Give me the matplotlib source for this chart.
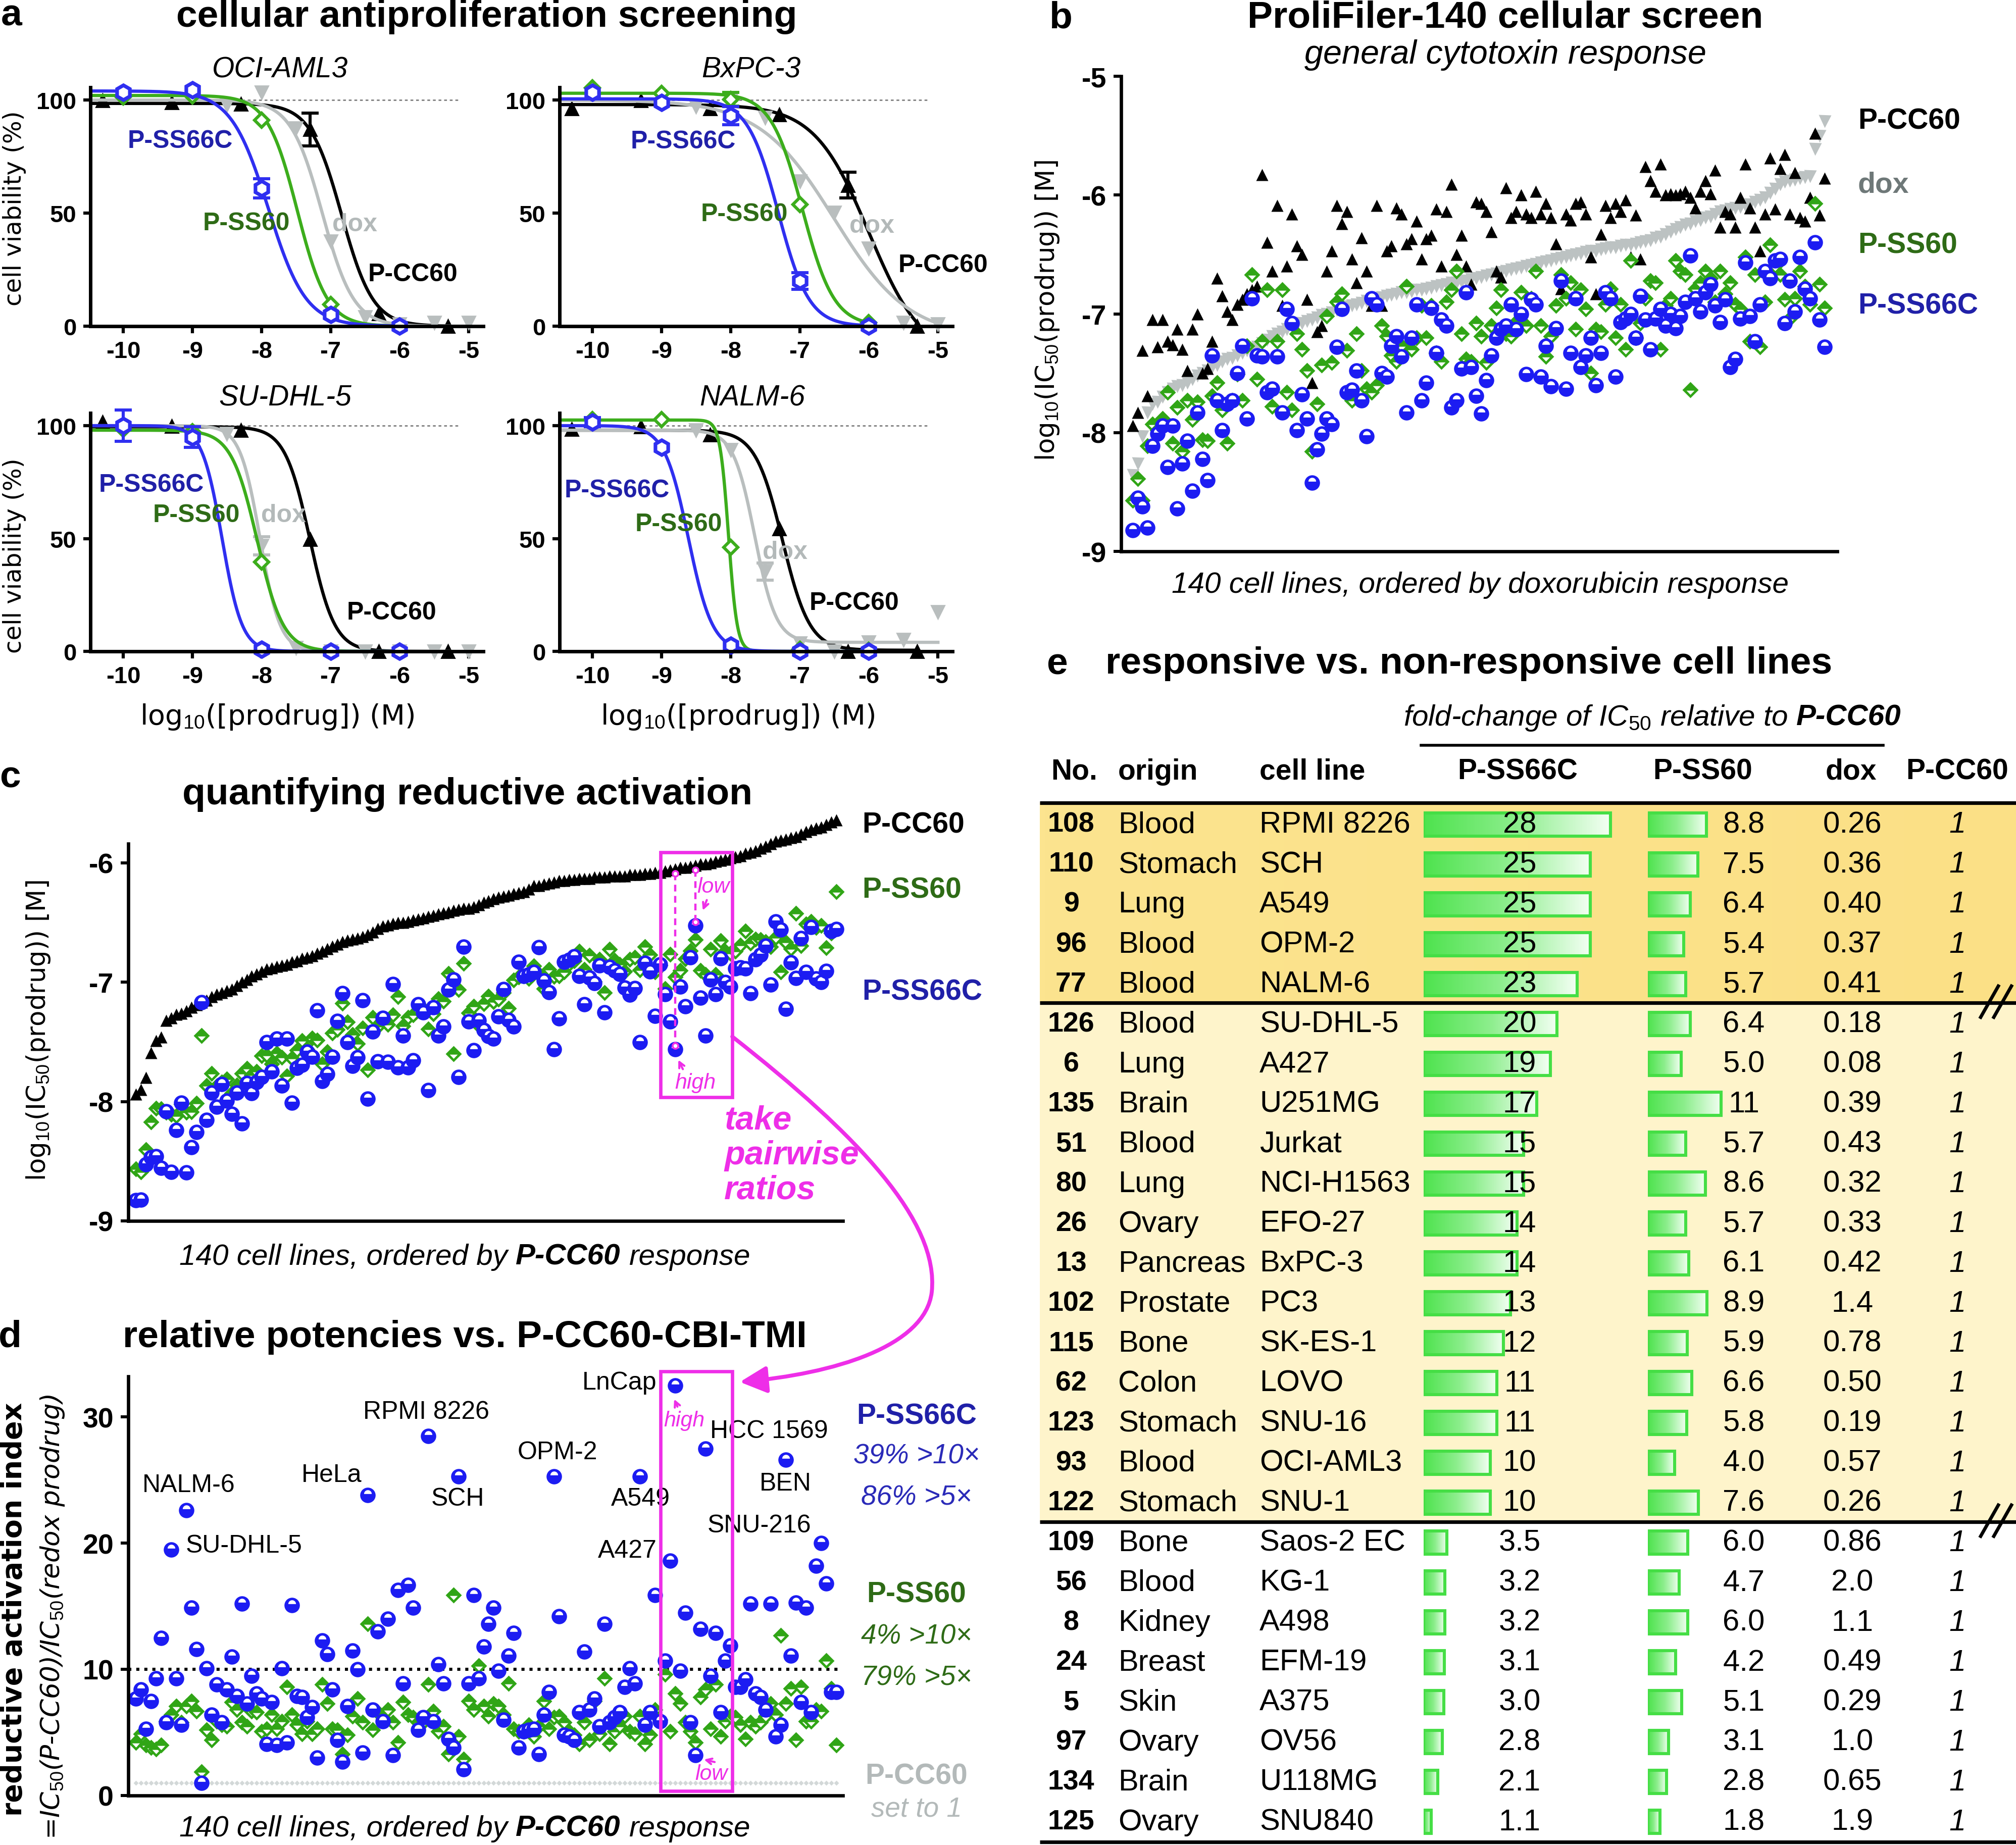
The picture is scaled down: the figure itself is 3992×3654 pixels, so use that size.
import numpy as np
import matplotlib
matplotlib.use('Agg')
import matplotlib.pyplot as plt
from matplotlib.path import Path
from matplotlib.patches import FancyArrowPatch, Rectangle
from matplotlib.transforms import Affine2D
from matplotlib.colors import LinearSegmentedColormap, to_rgb

plt.rcParams['font.family'] = ['Liberation Sans', 'DejaVu Sans']
plt.rcParams['axes.unicode_minus'] = False
plt.rcParams['mathtext.fontset'] = 'custom'
plt.rcParams['mathtext.rm'] = 'Liberation Sans'
plt.rcParams['mathtext.it'] = 'Liberation Sans:italic'
plt.rcParams['mathtext.bf'] = 'Liberation Sans:bold'

# ---------------- panel a: dose response (log10 M vs % viability) ----------------
cell_a = ['OCI-AML3', 'BxPC-3', 'SU-DHL-5', 'NALM-6']
conc_ss = [-10, -9, -8, -7, -6]
conc_cc = [-10.3, -9.3, -8.3, -7.3, -6.3, -5.3]
conc_dox = [-8.5, -8, -7.5, -7, -6.5, -6, -5.5, -5]

a_ss66c = [[103.4, 104.4, 60.9, 5.1, 0.0], [103.4, 98.8, 93.1, 20.0, 0.0],
           [100.0, 94.9, 1.0, 0.0, 0.0], [101.5, 90.3, 2.6, 0.0, 0.0]]
a_ss66c_err = [[0, 0, 4.3, 0, 0], [0, 0, 4.0, 3.6, 0], [7.0, 4.6, 0, 0, 0], [2.0, 0, 0, 0, 0]]
a_ss60 = [[101.3, 101.8, 91.0, 9.7, 0.0], [105.4, 102.9, 100.3, 53.7, 1.5],
          [98.5, 97.4, 39.5, 0.0, 0.0], [102.6, 102.6, 46.2, 1.0, 0.5]]
a_ss60_err = [[0, 0, 0, 0, 0], [0, 0, 3.0, 0, 0], [0, 0, 0, 0, 0], [0, 0, 0, 0, 0]]
a_dox = [[97.7, 103.4, 87.5, 37.4, 4.1, 1.0, 1.5, 1.5], [97.2, 100.0, 92.1, 64.0, 50.2, 34.3, 1.5, 1.0],
         [96.4, 46.7, 1.5, 0.0, 0.0, 0.0, 0.0, 0.0], [98.0, 89.2, 35.4, 3.5, 0.0, 4.0, 5.1, 17.4]]
a_dox_err = [[0] * 8, [0] * 8, [0, 4.0, 0, 0, 0, 0, 0, 0], [0, 0, 3.8, 0, 0, 0, 0, 0]]
a_cc60 = [[99.8, 98.8, 98.3, 87.0, 5.6, 0.0], [96.2, 99.8, 96.2, 93.6, 62.4, 0.0],
          [101.5, 99.8, 98.0, 49.7, 0.0, 0.0], [98.5, 99.5, 96.0, 54.4, 0.0, 0.0]]
a_cc60_err = [[0, 0, 0, 7.2, 0, 0], [0, 0, 0, 0, 5.6, 0], [0] * 6, [0] * 6]

# fitted curves: (top, bottom, logIC50, hill)
fit_ss66c = [(104, 0, -7.9, 1.6), (100.5, 0, -7.31, 1.95), (100, 0, -8.57, 3.0), (100, 0, -8.61, 2.5)]
fit_ss60 = [(102, 0, -7.48, 2.0), (103, 0, -6.96, 1.9), (98, 0, -8.06, 2.3), (102.5, 0, -8.03, 7.0)]
fit_dox = [(100, 0, -7.12, 1.9), (100, -5, -6.5, 0.8), (100, 0, -8.02, 3.0), (98, 4, -7.65, 2.8)]
fit_cc60 = [(98.5, 0, -6.84, 1.9), (98, -15, -6.0, 1.1), (99.5, 0, -7.3, 2.4), (98, 0.5, -7.25, 2.2)]

# ---------------- panel b: 140 cell lines ordered by dox (log10 IC50) ----------------
b_dox = [-8.36, -8.26, -8.03, -7.83, -7.76, -7.74, -7.70, -7.66, -7.63, -7.61,
         -7.60, -7.58, -7.55, -7.52, -7.50, -7.48, -7.45, -7.43, -7.40, -7.38,
         -7.37, -7.35, -7.33, -7.31, -7.30, -7.28, -7.25, -7.22, -7.19, -7.17,
         -7.15, -7.13, -7.11, -7.09, -7.08, -7.06, -7.05, -7.03, -7.01, -7.00,
         -6.99, -6.97, -6.96, -6.94, -6.93, -6.92, -6.91, -6.89, -6.88, -6.87,
         -6.86, -6.85, -6.84, -6.83, -6.82, -6.82, -6.81, -6.80, -6.80, -6.79,
         -6.78, -6.77, -6.76, -6.75, -6.74, -6.74, -6.73, -6.72, -6.71, -6.70,
         -6.69, -6.68, -6.67, -6.66, -6.65, -6.64, -6.63, -6.62, -6.61, -6.60,
         -6.59, -6.58, -6.57, -6.56, -6.55, -6.54, -6.53, -6.52, -6.51, -6.50,
         -6.49, -6.48, -6.47, -6.47, -6.46, -6.45, -6.44, -6.44, -6.43, -6.42,
         -6.42, -6.41, -6.40, -6.39, -6.38, -6.36, -6.35, -6.33, -6.31, -6.29,
         -6.27, -6.25, -6.24, -6.22, -6.21, -6.19, -6.18, -6.16, -6.14, -6.13,
         -6.12, -6.11, -6.10, -6.09, -6.08, -6.06, -6.04, -6.02, -5.98, -5.95,
         -5.91, -5.89, -5.88, -5.87, -5.86, -5.85, -5.84, -5.61, -5.50, -5.38]
b_cc60 = [-7.94, -7.83, -7.31, -7.69, -7.05, -7.28, -7.05, -7.23, -7.26, -7.13,
          -7.30, -7.48, -7.13, -7.00, -7.50, -7.46, -7.23, -6.70, -6.85, -6.98,
          -7.05, -6.92, -6.88, -6.83, -6.80, -6.77, -5.83, -6.40, -6.64, -6.09,
          -6.93, -6.60, -6.16, -6.43, -6.50, -6.88, -7.58, -7.15, -7.10, -6.64,
          -6.47, -6.09, -6.24, -6.14, -6.54, -6.74, -6.36, -6.64, -6.93, -6.09,
          -6.93, -6.47, -6.43, -6.11, -6.16, -6.41, -6.37, -6.22, -6.54, -6.37,
          -6.34, -6.12, -6.60, -6.14, -5.91, -6.50, -6.34, -6.60, -6.75, -6.06,
          -6.07, -6.14, -6.31, -6.64, -6.69, -5.94, -6.19, -6.14, -6.00, -6.16,
          -6.19, -5.97, -6.16, -6.07, -6.19, -6.41, -6.79, -6.16, -6.21, -6.07,
          -6.06, -6.16, -6.52, -6.83, -6.33, -6.09, -6.19, -6.07, -6.14, -6.04,
          -6.52, -6.17, -6.54, -5.76, -5.88, -5.97, -5.74, -6.00, -5.99, -6.00,
          -5.99, -5.97, -6.02, -6.11, -5.97, -5.88, -5.99, -5.79, -6.27, -6.14,
          -6.16, -6.27, -6.02, -5.74, -6.11, -6.27, -6.47, -6.16, -5.69, -6.12,
          -5.78, -5.66, -6.16, -5.81, -6.19, -6.22, -6.02, -5.48, -6.17, -5.86]
b_ss60 = [-8.57, -8.39, -8.57, -8.11, -7.93, -7.98, -7.88, -7.66, -8.09, -7.79,
          -8.16, -7.73, -7.89, -7.74, -8.06, -8.07, -7.69, -7.58, -7.81, -8.09,
          -7.73, -7.51, -7.73, -7.27, -6.67, -7.55, -7.23, -6.80, -7.78, -7.23,
          -6.80, -7.66, -7.81, -7.17, -7.30, -7.48, -8.16, -7.76, -7.43, -7.02,
          -7.41, -6.90, -6.83, -7.31, -7.73, -7.17, -7.48, -7.63, -7.66, -7.60,
          -7.10, -7.19, -7.35, -7.40, -7.27, -6.77, -7.30, -7.20, -6.93, -7.20,
          -6.93, -7.33, -7.40, -6.90, -6.80, -6.64, -7.17, -7.38, -7.40, -7.08,
          -7.19, -7.41, -7.10, -6.95, -6.80, -7.17, -7.19, -7.07, -6.82, -7.10,
          -6.87, -6.64, -7.10, -7.36, -7.19, -6.93, -6.67, -6.87, -6.74, -7.13,
          -6.80, -6.96, -7.50, -7.13, -7.15, -6.92, -6.79, -7.20, -6.92, -7.30,
          -6.55, -7.20, -7.08, -6.87, -6.72, -6.74, -7.30, -6.93, -6.87, -6.55,
          -6.64, -6.67, -7.64, -6.79, -6.74, -6.64, -6.70, -6.90, -6.64, -6.83,
          -6.74, -6.92, -6.96, -6.52, -7.23, -6.67, -7.28, -6.90, -6.42, -6.60,
          -6.67, -6.88, -7.04, -6.87, -6.64, -6.77, -6.92, -6.07, -6.75, -6.95]
b_ss66c = [-8.82, -8.55, -8.62, -8.80, -8.11, -8.01, -7.94, -8.29, -7.94, -8.64,
           -8.26, -8.07, -8.49, -7.83, -8.22, -8.40, -7.35, -7.73, -7.98, -7.76,
           -7.73, -7.50, -7.27, -7.88, -6.87, -7.35, -7.36, -7.66, -7.63, -7.36,
           -7.83, -6.96, -7.08, -7.98, -7.68, -7.88, -8.42, -8.14, -8.01, -7.88,
           -7.93, -7.28, -6.96, -7.66, -7.64, -7.48, -7.73, -8.03, -6.87, -6.92,
           -7.50, -7.53, -7.27, -7.19, -7.36, -7.83, -7.20, -6.92, -7.73, -7.58,
           -6.95, -7.33, -7.05, -7.10, -7.79, -7.73, -7.46, -6.82, -7.45, -7.69,
           -7.84, -7.56, -7.35, -7.20, -7.13, -7.10, -6.92, -7.13, -7.00, -7.51,
           -6.88, -6.92, -7.53, -7.27, -7.61, -7.12, -6.72, -7.63, -7.33, -6.87,
           -7.45, -7.35, -7.20, -7.60, -7.33, -6.82, -6.87, -7.53, -7.07, -7.04,
           -7.00, -7.20, -6.85, -7.05, -7.30, -7.04, -6.96, -7.10, -7.00, -7.12,
           -7.02, -6.90, -6.51, -6.87, -6.98, -6.82, -6.75, -6.93, -7.07, -6.88,
           -7.45, -7.38, -7.04, -6.57, -7.02, -7.23, -6.92, -6.64, -6.70, -6.55,
           -6.54, -7.08, -6.72, -6.98, -6.52, -6.79, -6.87, -6.40, -7.05, -7.28]

# ---------------- panels c/d: 140 cell lines ordered by P-CC60 ----------------
c_cc60 = [-7.94, -7.90, -7.80, -7.59, -7.49, -7.46, -7.32, -7.30, -7.27, -7.26,
          -7.24, -7.21, -7.19, -7.17, -7.15, -7.12, -7.10, -7.09, -7.07, -7.06,
          -7.03, -7.00, -6.98, -6.95, -6.93, -6.91, -6.89, -6.88, -6.87, -6.86,
          -6.85, -6.83, -6.82, -6.80, -6.79, -6.78, -6.76, -6.74, -6.72, -6.70,
          -6.68, -6.66, -6.65, -6.64, -6.63, -6.62, -6.60, -6.58, -6.55, -6.53,
          -6.52, -6.51, -6.50, -6.50, -6.49, -6.48, -6.47, -6.46, -6.45, -6.44,
          -6.43, -6.42, -6.41, -6.40, -6.39, -6.38, -6.38, -6.37, -6.35, -6.33,
          -6.32, -6.30, -6.29, -6.28, -6.27, -6.26, -6.25, -6.24, -6.22, -6.19,
          -6.19, -6.18, -6.17, -6.16, -6.15, -6.15, -6.14, -6.14, -6.13, -6.13,
          -6.13, -6.12, -6.12, -6.12, -6.11, -6.11, -6.11, -6.11, -6.10, -6.10,
          -6.10, -6.09, -6.09, -6.08, -6.08, -6.07, -6.06, -6.05, -6.04, -6.04,
          -6.03, -6.02, -6.01, -6.01, -6.00, -5.99, -5.98, -5.97, -5.96, -5.95,
          -5.94, -5.92, -5.91, -5.90, -5.88, -5.86, -5.84, -5.82, -5.81, -5.80,
          -5.79, -5.78, -5.76, -5.74, -5.72, -5.71, -5.70, -5.68, -5.66, -5.64]
# reductive activation index = IC50(P-CC60) / IC50(prodrug)
d_ratio_ss66c = [7.7, 8.4, 5.3, 7.5, 9.3, 12.5, 5.8, 19.5, 9.3, 5.6,
                 22.6, 14.9, 11.6, 1.0, 10.1, 6.4, 8.8, 5.8, 8.4, 11.0,
                 7.9, 15.2, 7.3, 9.5, 8.1, 7.7, 4.1, 7.4, 4.0, 10.1,
                 4.2, 15.1, 7.9, 7.8, 6.2, 7.0, 3.0, 12.3, 11.2, 8.4,
                 4.4, 2.7, 7.1, 11.5, 10.0, 3.4, 23.8, 6.8, 13.0, 5.9,
                 14.0, 3.2, 16.3, 8.9, 16.7, 14.9, 5.2, 6.2, 28.5, 5.9,
                 10.4, 8.9, 4.5, 3.8, 25.3, 2.1, 8.9, 15.9, 9.3, 11.8,
                 13.6, 14.9, 9.9, 6.0, 11.1, 12.9, 3.8, 5.1, 5.2, 5.3,
                 3.3, 6.4, 8.2, 25.3, 14.2, 4.8, 4.7, 4.4, 6.6, 11.4,
                 6.8, 7.7, 5.5, 13.6, 5.8, 6.2, 6.6, 8.6, 10.1, 8.9,
                 25.3, 5.6, 6.6, 15.9, 5.9, 10.7, 18.6, 32.5, 9.9, 14.5,
                 5.8, 3.2, 13.2, 27.5, 9.5, 12.9, 6.6, 10.7, 11.9, 8.6,
                 8.6, 9.2, 15.2, 8.1, 7.8, 6.8, 15.2, 4.7, 5.6, 26.6,
                 11.1, 15.3, 7.4, 14.9, 6.6, 18.2, 20.0, 16.8, 8.2, 8.2]
d_ratio_ss60 = [4.2, 4.9, 4.0, 3.8, 3.7, 4.0, 5.9, 6.4, 7.1, 5.8,
                7.1, 7.5, 6.7, 1.9, 5.2, 4.4, 5.9, 5.6, 5.5, 7.4,
                6.8, 5.8, 5.5, 6.7, 6.6, 5.1, 5.3, 6.4, 5.3, 5.9,
                8.6, 6.4, 5.6, 4.9, 5.9, 4.9, 5.3, 8.8, 7.3, 5.3,
                5.2, 3.3, 4.8, 6.3, 7.7, 5.8, 13.6, 5.2, 6.6, 6.2,
                6.8, 5.8, 4.2, 7.4, 6.4, 6.2, 5.8, 5.8, 8.8, 6.7,
                5.1, 5.5, 3.3, 15.9, 4.7, 2.9, 7.5, 6.8, 10.3, 7.1,
                6.3, 7.3, 7.1, 6.4, 8.9, 5.3, 5.1, 5.1, 5.6, 4.7,
                5.5, 7.5, 5.3, 6.2, 6.3, 5.8, 5.1, 4.8, 4.1, 5.8,
                4.4, 7.5, 4.9, 9.3, 4.1, 5.1, 5.5, 6.3, 5.1, 4.9,
                6.3, 4.1, 4.8, 6.8, 6.0, 9.6, 5.1, 8.1, 7.3, 5.8,
                5.1, 4.2, 7.8, 8.4, 5.3, 8.8, 4.7, 5.9, 6.3, 6.2,
                5.6, 4.5, 5.8, 5.5, 5.8, 6.3, 7.3, 6.4, 12.7, 7.3,
                8.5, 4.4, 8.6, 5.9, 5.9, 6.8, 6.7, 10.7, 8.5, 4.0]
d_names = ['NALM-6', 'SU-DHL-5', 'HeLa', 'RPMI 8226', 'SCH', 'OPM-2', 'A549',
           'LnCap', 'A427', 'HCC 1569', 'BEN', 'SNU-216']
hi_idx, lo_idx = 107, 111

# ---------------- panel e: table ----------------
tab_no = [108, 110, 9, 96, 77, 126, 6, 135, 51, 80, 26, 13, 102, 115, 62, 123, 93, 122,
          109, 56, 8, 24, 5, 97, 134, 125]
tab_origin = ['Blood', 'Stomach', 'Lung', 'Blood', 'Blood', 'Blood', 'Lung', 'Brain', 'Blood',
              'Lung', 'Ovary', 'Pancreas', 'Prostate', 'Bone', 'Colon', 'Stomach', 'Blood',
              'Stomach', 'Bone', 'Blood', 'Kidney', 'Breast', 'Skin', 'Ovary', 'Brain', 'Ovary']
tab_line = ['RPMI 8226', 'SCH', 'A549', 'OPM-2', 'NALM-6', 'SU-DHL-5', 'A427', 'U251MG', 'Jurkat',
            'NCI-H1563', 'EFO-27', 'BxPC-3', 'PC3', 'SK-ES-1', 'LOVO', 'SNU-16', 'OCI-AML3',
            'SNU-1', 'Saos-2 EC', 'KG-1', 'A498', 'EFM-19', 'A375', 'OV56', 'U118MG', 'SNU840']
tab_ss66c = ['28', '25', '25', '25', '23', '20', '19', '17', '15', '15', '14', '14', '13', '12',
             '11', '11', '10', '10', '3.5', '3.2', '3.2', '3.1', '3.0', '2.8', '2.1', '1.1']
tab_ss60 = ['8.8', '7.5', '6.4', '5.4', '5.7', '6.4', '5.0', '11', '5.7', '8.6', '5.7', '6.1',
            '8.9', '5.9', '6.6', '5.8', '4.0', '7.6', '6.0', '4.7', '6.0', '4.2', '5.1', '3.1',
            '2.8', '1.8']
tab_dox = ['0.26', '0.36', '0.40', '0.37', '0.41', '0.18', '0.08', '0.39', '0.43', '0.32', '0.33',
           '0.42', '1.4', '0.78', '0.50', '0.19', '0.57', '0.26', '0.86', '2.0', '1.1', '0.49',
           '0.29', '1.0', '0.65', '1.9']

# ---------------- styling ----------------
BLUE_M, BLUE_L, BLUE_T = '#1C1CF2', '#2F2FF0', '#2020A8'
GREEN_M, GREEN_L, GREEN_T = '#30A516', '#3CAD1C', '#2E6B16'
GREY_L, GREY_T, GREY_B = '#B9BEBE', '#B3B9B9', '#6E7878'
MAG = '#EE2EE8'

W, H = 3992, 3655
fig = plt.figure(figsize=(W / 200, H / 200), dpi=200)
tpx = Affine2D().scale(1 / W, -1 / H).translate(0, 1) + fig.transFigure


def add_ax(l, t, r, b):
    return fig.add_axes([l / W, 1 - b / H, (r - l) / W, (b - t) / H])


def ftext(x, y, s, size, **kw):
    kw.setdefault('ha', 'center')
    kw.setdefault('va', 'center')
    return fig.text(x, y, s, transform=tpx, fontsize=size, **kw)


def rich(x, y, parts, size, gap=0.28):
    r = fig.canvas.get_renderer()
    objs = [fig.text(0, 0, s, transform=tpx, fontsize=size, ha='left', va='center', **kw)
            for s, kw in parts]
    ws = [o.get_window_extent(renderer=r).width for o in objs]
    g = gap * size * 200 / 72
    cx = x - (sum(ws) + g * (len(objs) - 1)) / 2
    for o, w in zip(objs, ws):
        o.set_position((cx, y))
        cx += w + g


def style(ax, lw, tl, size):
    for s in ['top', 'right']:
        ax.spines[s].set_visible(False)
    for s in ['left', 'bottom']:
        ax.spines[s].set_linewidth(lw)
    ax.tick_params(length=tl, width=lw * 0.9, labelsize=size, pad=5)


def logistic(x, top, bottom, c, h):
    return bottom + (top - bottom) / (1 + 10 ** ((x - c) * h))


t = np.linspace(0, np.pi, 30)
SEMI = Path(np.vstack([np.column_stack([np.cos(t), 0.35 + np.sin(t)]), [[1, 0.35]]]), closed=True)
TRI = Path([(-1, -0.15), (1, -0.15), (0, -1.2), (-1, -0.15)], closed=True)


def green_pts(ax, x, y):
    for xi, yi in zip(x, y):
        ax.plot([xi], [yi], marker='D', ms=8.2, color=GREEN_M, mec='none', ls='none', clip_on=False)
        ax.plot([xi], [yi], marker=TRI, ms=6.8, color='white', mec='none', ls='none', clip_on=False)


def blue_pts(ax, x, y):
    for xi, yi in zip(x, y):
        ax.plot([xi], [yi], marker='o', ms=11, color=BLUE_M, mec='none', ls='none', clip_on=False)
        ax.plot([xi], [yi], marker=SEMI, ms=7.4, color='white', mec='none', ls='none', clip_on=False)


# ================= panel a =================
a_boxes = [(179, 174, 957, 647), (1108, 174, 1886, 647), (179, 819, 957, 1291), (1108, 819, 1886, 1291)]
a_titles = [(555, 138), (1487, 138), (565, 789), (1490, 789)]
a_labpos = [[(357, 280), (488, 443), (702, 445), (817, 544)],
            [(1353, 281), (1474, 425), (1726, 448), (1867, 526)],
            [(300, 961), (389, 1021), (561, 1021), (775, 1214)],
            [(1222, 972), (1344, 1039), (1554, 1094), (1691, 1195)]]
ser_names = ['P-SS66C', 'P-SS60', 'dox', 'P-CC60']
ser_cols = [BLUE_T, GREEN_T, GREY_T, 'black']

for k, name in enumerate(cell_a):
    ax = add_ax(*a_boxes[k])
    ax.set_xlim(-10.475, -4.79)
    ax.set_ylim(0, 105.6)
    ax.plot([-10.475, -5.15], [100, 100], color='#808080', lw=1.0, ls=(0, (2, 2)), zorder=1)
    specs = [(conc_cc, a_cc60[k], a_cc60_err[k], fit_cc60[k], 'black',
              dict(marker='^', mfc='black', mec='black', ms=9.5)),
             (conc_dox, a_dox[k], a_dox_err[k], fit_dox[k], GREY_L,
              dict(marker='v', mfc=GREY_L, mec=GREY_L, ms=9.5)),
             (conc_ss, a_ss60[k], a_ss60_err[k], fit_ss60[k], GREEN_L,
              dict(marker='D', mfc='white', mec=GREEN_L, ms=7, mew=2.2)),
             (conc_ss, a_ss66c[k], a_ss66c_err[k], fit_ss66c[k], BLUE_L,
              dict(marker='h', mfc='white', mec=BLUE_L, ms=10.5, mew=2.6))]
    for xs, ys, es, fit, col, mk in specs:
        xx = np.linspace(-10.475, xs[-1], 400)
        ax.plot(xx, logistic(xx, *fit), color=col, lw=2.3)
        ex = [x for x, e in zip(xs, es) if e > 0]
        if ex:
            ey = [y for y, e in zip(ys, es) if e > 0]
            ee = [e for e in es if e > 0]
            ax.errorbar(ex, ey, yerr=ee, fmt='none', ecolor='black' if col == 'black' else col,
                        elinewidth=2.2, capsize=6, capthick=2.2, clip_on=False)
        ax.plot(xs, ys, ls='none', clip_on=False, **mk)
    style(ax, 2.5, 5, 17)
    ax.set_xticks([-10, -9, -8, -7, -6, -5])
    ax.set_xticklabels(['-10', '-9', '-8', '-7', '-6', '-5'], fontweight='bold')
    ax.set_yticks([0, 50, 100])
    ax.set_yticklabels(['0', '50', '100'], fontweight='bold')
    ftext(*a_titles[k], name, 20.5, style='italic')
    for (px, py), s, c in zip(a_labpos[k], ser_names, ser_cols):
        ftext(px, py, s, 18, color=c, weight='bold')

ftext(23, 31, 'a', 27, weight='bold')
ftext(964, 33, 'cellular antiproliferation screening', 27, weight='bold')
for yy in (413, 1101):
    ftext(29, yy, 'cell viability (%)', 17.4, rotation=90, family='DejaVu Sans')
for xx in (548, 1460):
    ftext(xx, 1420, r'log$_{10}$([prodrug]) (M)', 20, family='DejaVu Sans')

# ================= panel b =================
ax = add_ax(2220, 152, 3638, 1093)
xb = np.arange(len(b_dox))
ax.plot(xb, b_dox, ls='none', marker='v', ms=9, color='#BCC2C2', mec='none')
ax.plot(xb, b_cc60, ls='none', marker='^', ms=8.6, color='black', mec='none', clip_on=False)
green_pts(ax, xb, b_ss60)
blue_pts(ax, xb, b_ss66c)
ax.set_xlim(-2.3, 141.5)
ax.set_ylim(-9, -5)
style(ax, 2.4, 5.4, 20)
ax.set_xticks([])
ax.set_yticks([-9, -8, -7, -6, -5])
ax.set_yticklabels(['-9', '-8', '-7', '-6', '-5'], fontweight='bold')
ftext(2100, 36, 'b', 27, weight='bold')
ftext(2981, 35, 'ProliFiler-140 cellular screen', 27, weight='bold')
ftext(2981, 109, 'general cytotoxin response', 24, style='italic')
ftext(2931, 1159, '140 cell lines, ordered by doxorubicin response', 21, style='italic')
ftext(2074, 615, r'log$_{10}$(IC$_{50}$(prodrug)) [M]', 18.5, rotation=90, family='DejaVu Sans')
for s, c, yy in zip(['P-CC60', 'dox', 'P-SS60', 'P-SS66C'], ['black', GREY_B, GREEN_T, BLUE_T],
                    [241, 366, 486, 607]):
    ftext(3679, yy, s, 20.5, color=c, weight='bold', ha='left')

# ================= panel c =================
cc = np.array(c_cc60)
xc = np.arange(len(cc))
c_ss66c = cc - np.log10(d_ratio_ss66c)
c_ss60 = cc - np.log10(d_ratio_ss60)
ax = add_ax(254, 1672, 1669, 2419)
ax.plot(xc, cc, ls='none', marker='^', ms=8.6, color='black', mec='none', clip_on=False)
green_pts(ax, xc, c_ss60)
blue_pts(ax, xc, c_ss66c)
ax.set_xlim(-1.5, 140.3)
ax.set_ylim(-9, -5.84)
style(ax, 2.4, 5.4, 20)
ax.set_xticks([])
ax.set_yticks([-9, -8, -7, -6])
ax.set_yticklabels(['-9', '-8', '-7', '-6'], fontweight='bold')
ax.add_patch(Rectangle((104.1, -7.963), 14.3, 2.049, fill=False, ec=MAG, lw=2.4, clip_on=False, zorder=5))
for i in (hi_idx, lo_idx):
    ax.plot([i, i], [cc[i] - 0.04, c_ss66c[i] + 0.03], color=MAG, lw=1.6, ls=(0, (3, 2)), zorder=6)
    ax.plot([i, i], [cc[i] - 0.04, c_ss66c[i] + 0.03], ls='none', marker='o', ms=4, mfc='white',
            mec=MAG, mew=1.3, zorder=6)
ax.text(114.6, -6.2, 'low', color=MAG, fontsize=15.5, style='italic', ha='center', va='center')
ax.annotate('', xy=(112.3, -6.42), xytext=(113.5, -6.29),
            arrowprops=dict(arrowstyle='->', color=MAG, lw=1.5))
ax.text(111.0, -7.84, 'high', color=MAG, fontsize=15.5, style='italic', ha='center', va='center')
ax.annotate('', xy=(107.4, -7.63), xytext=(108.8, -7.75),
            arrowprops=dict(arrowstyle='->', color=MAG, lw=1.5))
ftext(20, 1540, 'c', 27, weight='bold')
ftext(926, 1574, 'quantifying reductive activation', 27, weight='bold')
ftext(76, 2041, r'log$_{10}$(IC$_{50}$(prodrug)) [M]', 18.5, rotation=90, family='DejaVu Sans')
rich(920, 2490, [('140 cell lines, ordered by', dict(style='italic')),
                 ('P-CC60', dict(style='italic', weight='bold')),
                 ('response', dict(style='italic'))], 21)
for s, c, yy in zip(['P-CC60', 'P-SS60', 'P-SS66C'], ['black', GREEN_T, BLUE_T], [1635, 1764, 1966]):
    ftext(1707, yy, s, 20.5, color=c, weight='bold', ha='left')
for s, yy in zip(['take', 'pairwise', 'ratios'], [2220, 2289, 2358]):
    ftext(1434, yy, s, 24, color=MAG, weight='bold', style='italic', ha='left')

# ================= panel d =================
ax = add_ax(254, 2727, 1669, 3557)
ax.plot(xc, np.ones_like(cc), ls='none', marker='D', ms=2.7, color='#D3D8D8', mec='none')
ax.plot([-1.5, 139.6], [10, 10], color='black', lw=2.2, ls=(0, (1, 1.6)))
green_pts(ax, xc, d_ratio_ss60)
blue_pts(ax, xc, d_ratio_ss66c)
ax.set_xlim(-1.5, 140.3)
ax.set_ylim(0, 33.2)
style(ax, 2.4, 5.4, 20)
ax.set_xticks([])
ax.set_yticks([0, 10, 20, 30])
ax.set_yticklabels(['0', '10', '20', '30'], fontweight='bold')
ax.add_patch(Rectangle((104.1, 0.36), 14.3, 33.24, fill=False, ec=MAG, lw=2.4, clip_on=False, zorder=5))
d_lab = [(10.5, 24.6, 'center'), (9.9, 19.8, 'left'), (38.9, 25.4, 'center'), (57.6, 30.4, 'center'),
         (63.9, 23.5, 'center'), (83.7, 27.2, 'center'), (100.2, 23.5, 'center'), (103.4, 32.7, 'right'),
         (103.4, 19.4, 'right'), (125.7, 28.9, 'center'), (128.9, 24.7, 'center'), (123.7, 21.4, 'center')]
for (lx, ly, ha), s in zip(d_lab, d_names):
    ax.text(lx, ly, s, fontsize=18, ha=ha, va='center')
ax.text(108.8, 29.7, 'high', color=MAG, fontsize=15.5, style='italic', ha='center', va='center')
ax.annotate('', xy=(106.6, 31.6), xytext=(107.7, 30.6),
            arrowprops=dict(arrowstyle='->', color=MAG, lw=1.5))
ax.text(114.2, 1.7, 'low', color=MAG, fontsize=15.5, style='italic', ha='center', va='center')
ax.annotate('', xy=(112.2, 2.9), xytext=(115.4, 2.6),
            arrowprops=dict(arrowstyle='->', color=MAG, lw=1.5))
ftext(20, 2648, 'd', 27, weight='bold')
ftext(920, 2649, 'relative potencies vs. P-CC60-CBI-TMI', 27, weight='bold')
ftext(28, 3187, 'reductive activation index', 20, rotation=90, family='DejaVu Sans', weight='bold')
ftext(104, 3202, r'=IC$_{\mathit{50}}$(P-CC60)/IC$_{\mathit{50}}$(redox prodrug)', 18.6, rotation=90,
      family='DejaVu Sans', style='italic')
rich(920, 3622, [('140 cell lines, ordered by', dict(style='italic')),
                 ('P-CC60', dict(style='italic', weight='bold')),
                 ('response', dict(style='italic'))], 21)
ftext(1815, 2806, 'P-SS66C', 20.5, color=BLUE_T, weight='bold')
ftext(1815, 2885, '39% >10\u00d7', 19.7, color='#2A2AB8', style='italic')
ftext(1815, 2967, '86% >5\u00d7', 19.7, color='#2A2AB8', style='italic')
ftext(1815, 3159, 'P-SS60', 20.5, color=GREEN_T, weight='bold')
ftext(1815, 3242, '4% >10\u00d7', 19.7, color=GREEN_T, style='italic')
ftext(1815, 3324, '79% >5\u00d7', 19.7, color=GREEN_T, style='italic')
ftext(1815, 3519, 'P-CC60', 20.5, color=GREY_T, weight='bold')
ftext(1815, 3584, 'set to 1', 19.7, color=GREY_T, style='italic')

# curved arrow from c to d
verts = [(1450, 2054), (1700, 2250), (1860, 2420), (1845, 2560), (1832, 2668), (1650, 2722), (1465, 2738)]
codes = [Path.MOVETO] + [Path.CURVE4] * 6
fig.add_artist(FancyArrowPatch(path=Path(verts, codes), arrowstyle='-|>,head_length=0.9,head_width=0.45',
                               mutation_scale=18, color=MAG, lw=2.8, transform=tpx))

# ================= panel e =================
ylim_e = (25.58, -4.86)
ax_bg = add_ax(2040, 1250, 3992, 3655)
grad = np.linspace(0, 1, 200)[:, None]
c1, c2 = np.array(to_rgb('#FCE48F')), np.array(to_rgb('#FBE086'))
ax_bg.imshow((c1 + (c2 - c1) * grad)[None, :, :], extent=(2059, 3992, 4.47, -0.55), aspect='auto')
ax_bg.add_patch(Rectangle((2059, 4.47), 3992 - 2059, 13.01, color='#FEF4CB', lw=0))
ax_bg.set_xlim(2040, 3992)
ax_bg.set_ylim(*ylim_e)
ax_bg.axis('off')

bar_cmap = LinearSegmentedColormap.from_list('bar', ['#4FE34F', '#8DEE8D', '#F2FFF2'])
rows = np.arange(len(tab_no))
for left, vals in ((2819, tab_ss66c), (3263, tab_ss60)):
    axb = add_ax(left, 1250, left + 13.2 * 30, 3655)
    v = np.array(vals, dtype=float)
    for i, vi in zip(rows, v):
        axb.imshow(np.linspace(0, 1, 64)[None, :], cmap=bar_cmap, extent=(0, vi, i + 0.29, i - 0.29),
                   aspect='auto', interpolation='bilinear')
    axb.barh(rows, v, height=0.58, fill=False, edgecolor='#45DE45', lw=2.2)
    axb.set_xlim(0, 30)
    axb.set_ylim(*ylim_e)
    axb.axis('off')

ax_e = add_ax(2040, 1250, 3992, 3655)
ax_e.set_xlim(2040, 3992)
ax_e.set_ylim(*ylim_e)
ax_e.axis('off')
for yl in (-0.55, 4.47, 17.48, 25.5):
    ax_e.plot([2059, 3992], [yl, yl], color='black', lw=2.6, solid_capstyle='butt')
ax_e.plot([2814, 3729], [-1.99, -1.99], color='black', lw=2.0)
for yb in (4.47, 17.48):
    for x0 in (3922, 3948):
        ax_e.plot([x0, x0 + 35], [yb + 0.36, yb - 0.42], color='black', lw=2.4)
for i in rows:
    ax_e.text(2121, i, str(tab_no[i]), ha='center', va='center', fontsize=20, weight='bold')
    ax_e.text(2214, i, tab_origin[i], ha='left', va='center', fontsize=21.5)
    ax_e.text(2494, i, tab_line[i], ha='left', va='center', fontsize=21.5)
    ax_e.text(3009, i, tab_ss66c[i], ha='center', va='center', fontsize=21.5)
    ax_e.text(3453, i, tab_ss60[i], ha='center', va='center', fontsize=21.5)
    ax_e.text(3668, i, tab_dox[i], ha='center', va='center', fontsize=21.5)
    ax_e.text(3876, i, '1', ha='center', va='center', fontsize=21.5, style='italic')
for x, s, ha in ((2127, 'No.', 'center'), (2214, 'origin', 'left'), (2494, 'cell line', 'left'),
                 (3005, 'P-SS66C', 'center'), (3372, 'P-SS60', 'center'), (3665, 'dox', 'center'),
                 (3876, 'P-CC60', 'center')):
    ax_e.text(x, -1.33, s, ha=ha, va='center', fontsize=20.5, weight='bold')
ftext(2093, 1316, 'e', 27, weight='bold')
ftext(2189, 1315, 'responsive vs. non-responsive cell lines', 27, weight='bold', ha='left')
rich(3272, 1422, [(r'fold-change of IC$_{\mathit{50}}$ relative to', dict(style='italic')),
                  ('P-CC60', dict(style='italic', weight='bold'))], 21)

fig.savefig('out.png', dpi=200)
